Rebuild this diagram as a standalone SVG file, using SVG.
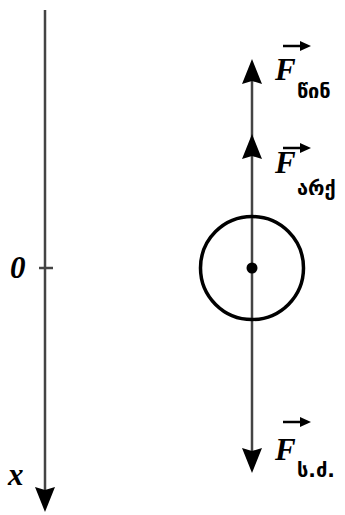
<svg xmlns="http://www.w3.org/2000/svg" width="345" height="515" viewBox="0 0 345 515">
<style>
.axis{stroke:#444;stroke-width:2.5;fill:none}
.head{fill:#000}
.F{font-family:"Liberation Serif","Times New Roman",serif;font-style:italic;font-weight:bold;font-size:31px;fill:#000}
.sub{font-family:"DejaVu Sans",sans-serif;font-weight:bold;font-size:20px;fill:#000}
.lbl{font-family:"Liberation Serif","Times New Roman",serif;font-style:italic;font-weight:bold;font-size:31px;fill:#000}
.vec{stroke:#000;stroke-width:2.5}
</style>
<defs>
<path id="up" d="M0,0 L10,25 L0,22 L-10,25 Z" class="head"/>
<path id="down" d="M0,0 L10,-25 L0,-22 L-10,-25 Z" class="head"/>
<g id="vecArrow"><line x1="0" y1="0" x2="20" y2="0" class="vec"/><path d="M28,0 L17,-5 L17,5 Z" class="head"/></g>
</defs>
<g id="connectors">
<line class="axis" x1="45" y1="10" x2="45" y2="495"/>
<use href="#down" x="45" y="512"/>
<line class="axis" x1="39" y1="268" x2="53" y2="268"/>
<line class="axis" x1="252" y1="68" x2="252" y2="460"/>
<use href="#up" x="252" y="59"/>
<use href="#up" x="252" y="134"/>
<use href="#down" x="252" y="473"/>
</g>
<g id="axis-labels">
<text class="lbl" x="10" y="278">0</text>
<text class="lbl" x="8" y="485">x</text>
</g>
<g id="body">
<circle cx="252" cy="268" r="51.5" fill="none" stroke="#000" stroke-width="3.5"/>
<circle cx="252" cy="268" r="5.5" fill="#000"/>
</g>
<g id="label-F-win">
<use href="#vecArrow" x="283" y="46"/>
<text class="F" x="275" y="80">F</text>
<text class="sub" x="297" y="98">წინ</text>
</g>
<g id="label-F-arq">
<use href="#vecArrow" x="283" y="148"/>
<text class="F" x="275" y="173">F</text>
<text class="sub" x="297" y="195">არქ</text>
</g>
<g id="label-F-sd">
<use href="#vecArrow" x="283" y="422"/>
<text class="F" x="275" y="460">F</text>
<text class="sub" x="297" y="477">ს.ძ.</text>
</g>
</svg>
